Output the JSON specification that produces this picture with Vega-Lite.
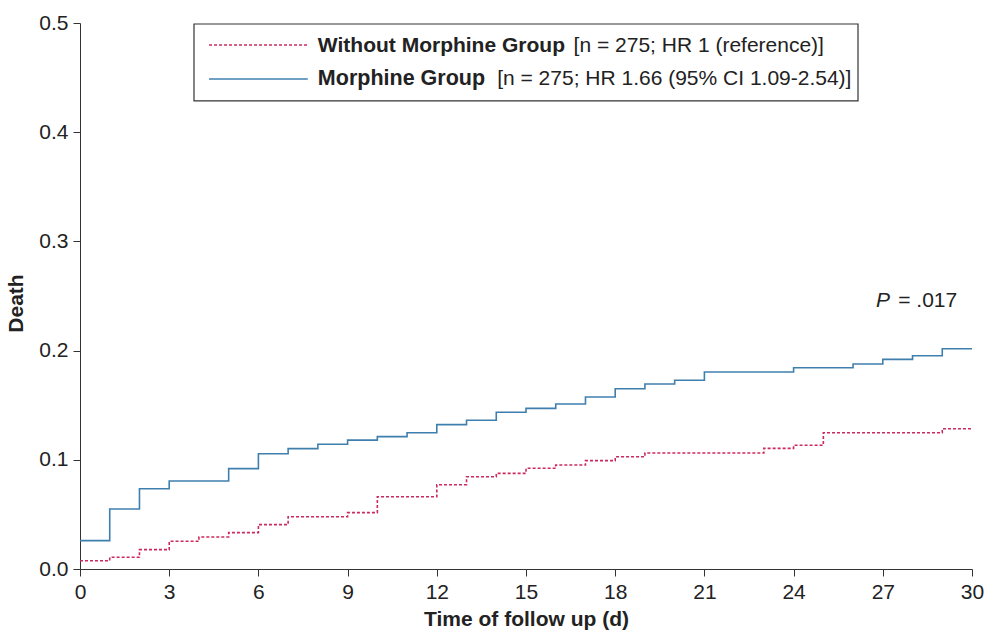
{
  "$schema": "https://vega.github.io/schema/vega-lite/v6.json",
  "autosize": {"type": "none"},
  "width": 892,
  "height": 546,
  "padding": {"left": 80, "top": 23, "right": 13, "bottom": 67},
  "background": "white",
  "config": {
    "font": "Liberation Sans",
    "view": {"stroke": null},
    "axis": {
      "grid": false,
      "domainColor": "#333333",
      "tickColor": "#333333",
      "tickSize": 7,
      "labelFont": "Liberation Sans",
      "labelFontSize": 21,
      "labelColor": "#222222",
      "labelFlush": false,
      "titleFont": "Liberation Sans",
      "titleFontSize": 21,
      "titleFontWeight": "bold",
      "titleColor": "#222222"
    }
  },
  "datasets": {
    "curves": [
      {"group": "Morphine", "day": 0, "death": 0.026},
      {"group": "Morphine", "day": 1, "death": 0.055},
      {"group": "Morphine", "day": 2, "death": 0.0735},
      {"group": "Morphine", "day": 3, "death": 0.0806},
      {"group": "Morphine", "day": 5, "death": 0.0919},
      {"group": "Morphine", "day": 6, "death": 0.1056},
      {"group": "Morphine", "day": 7, "death": 0.1102},
      {"group": "Morphine", "day": 8, "death": 0.1142},
      {"group": "Morphine", "day": 9, "death": 0.118},
      {"group": "Morphine", "day": 10, "death": 0.1212},
      {"group": "Morphine", "day": 11, "death": 0.1248},
      {"group": "Morphine", "day": 12, "death": 0.1322},
      {"group": "Morphine", "day": 13, "death": 0.1362},
      {"group": "Morphine", "day": 14, "death": 0.1435},
      {"group": "Morphine", "day": 15, "death": 0.1471},
      {"group": "Morphine", "day": 16, "death": 0.1511},
      {"group": "Morphine", "day": 17, "death": 0.1575},
      {"group": "Morphine", "day": 18, "death": 0.1651},
      {"group": "Morphine", "day": 19, "death": 0.1694},
      {"group": "Morphine", "day": 20, "death": 0.1728},
      {"group": "Morphine", "day": 21, "death": 0.1804},
      {"group": "Morphine", "day": 24, "death": 0.1843},
      {"group": "Morphine", "day": 26, "death": 0.1877},
      {"group": "Morphine", "day": 27, "death": 0.192},
      {"group": "Morphine", "day": 28, "death": 0.1953},
      {"group": "Morphine", "day": 29, "death": 0.2017},
      {"group": "Morphine", "day": 30, "death": 0.2017},
      {"group": "Without Morphine", "day": 0, "death": 0.0076},
      {"group": "Without Morphine", "day": 1, "death": 0.0107},
      {"group": "Without Morphine", "day": 2, "death": 0.0177},
      {"group": "Without Morphine", "day": 3, "death": 0.0254},
      {"group": "Without Morphine", "day": 4, "death": 0.0293},
      {"group": "Without Morphine", "day": 5, "death": 0.0333},
      {"group": "Without Morphine", "day": 6, "death": 0.0406},
      {"group": "Without Morphine", "day": 7, "death": 0.0479},
      {"group": "Without Morphine", "day": 9, "death": 0.0516},
      {"group": "Without Morphine", "day": 10, "death": 0.0662},
      {"group": "Without Morphine", "day": 12, "death": 0.0772},
      {"group": "Without Morphine", "day": 13, "death": 0.0845},
      {"group": "Without Morphine", "day": 14, "death": 0.0876},
      {"group": "Without Morphine", "day": 15, "death": 0.0922},
      {"group": "Without Morphine", "day": 16, "death": 0.0952},
      {"group": "Without Morphine", "day": 17, "death": 0.0992},
      {"group": "Without Morphine", "day": 18, "death": 0.1028},
      {"group": "Without Morphine", "day": 19, "death": 0.1062},
      {"group": "Without Morphine", "day": 23, "death": 0.1105},
      {"group": "Without Morphine", "day": 24, "death": 0.1133},
      {"group": "Without Morphine", "day": 25, "death": 0.1248},
      {"group": "Without Morphine", "day": 29, "death": 0.1285},
      {"group": "Without Morphine", "day": 30, "death": 0.1285}
    ],
    "one": [{}]
  },
  "layer": [
    {
      "data": {"name": "curves"},
      "mark": {"type": "line", "interpolate": "step-after", "strokeWidth": 1.6},
      "encoding": {
        "x": {
          "field": "day", "type": "quantitative",
          "scale": {"domain": [0, 30], "nice": false, "zero": false},
          "axis": {"values": [0, 3, 6, 9, 12, 15, 18, 21, 24, 27, 30], "title": "Time of follow up (d)", "labelPadding": 5, "titlePadding": 6}
        },
        "y": {
          "field": "death", "type": "quantitative",
          "scale": {"domain": [0, 0.5], "nice": false},
          "axis": {"values": [0, 0.1, 0.2, 0.3, 0.4, 0.5], "format": ".1f", "title": "Death", "labelPadding": 5, "titlePadding": 12, "titleY": 280}
        },
        "color": {
          "field": "group", "type": "nominal",
          "scale": {"domain": ["Without Morphine", "Morphine"], "range": ["#cc2a5c", "#3f7fae"]},
          "legend": null
        },
        "strokeDash": {
          "field": "group", "type": "nominal",
          "scale": {"domain": ["Without Morphine", "Morphine"], "range": [[3, 2], [1, 0]]},
          "legend": null
        }
      }
    },
    {
      "data": {"name": "one"},
      "mark": {"type": "rect", "fill": "white", "stroke": "#333333", "strokeWidth": 1.2},
      "encoding": {
        "x": {"datum": 3.834},
        "x2": {"datum": 26.166},
        "y": {"datum": 0.4991},
        "y2": {"datum": 0.4286}
      }
    },
    {
      "data": {"name": "one"},
      "mark": {"type": "rule", "stroke": "#cc2a5c", "strokeWidth": 1.6, "strokeDash": [3, 2]},
      "encoding": {
        "x": {"datum": 4.34},
        "x2": {"datum": 7.66},
        "y": {"datum": 0.4798}
      }
    },
    {
      "data": {"name": "one"},
      "mark": {"type": "rule", "stroke": "#3f7fae", "strokeWidth": 1.6},
      "encoding": {
        "x": {"datum": 4.34},
        "x2": {"datum": 7.66},
        "y": {"datum": 0.4487}
      }
    },
    {
      "data": {"name": "one"},
      "mark": {"type": "text", "text": "Without Morphine Group", "fontWeight": "bold", "fontSize": 21, "align": "left", "baseline": "alphabetic", "color": "#222222"},
      "encoding": {"x": {"datum": 8.0}, "y": {"datum": 0.4739}}
    },
    {
      "data": {"name": "one"},
      "mark": {"type": "text", "text": "[n = 275; HR 1 (reference)]", "fontSize": 21, "align": "left", "baseline": "alphabetic", "color": "#222222"},
      "encoding": {"x": {"datum": 16.6}, "y": {"datum": 0.4739}}
    },
    {
      "data": {"name": "one"},
      "mark": {"type": "text", "text": "Morphine Group", "fontWeight": "bold", "fontSize": 21.5, "align": "left", "baseline": "alphabetic", "color": "#222222"},
      "encoding": {"x": {"datum": 8.0}, "y": {"datum": 0.4432}}
    },
    {
      "data": {"name": "one"},
      "mark": {"type": "text", "text": "[n = 275; HR 1.66 (95% CI 1.09-2.54)]", "fontSize": 21, "align": "left", "baseline": "alphabetic", "color": "#222222"},
      "encoding": {"x": {"datum": 14.03}, "y": {"datum": 0.4432}}
    },
    {
      "data": {"name": "one"},
      "mark": {"type": "text", "text": "P", "fontStyle": "italic", "fontSize": 21, "align": "left", "baseline": "alphabetic", "color": "#222222"},
      "encoding": {"x": {"datum": 26.77}, "y": {"datum": 0.24}}
    },
    {
      "data": {"name": "one"},
      "mark": {"type": "text", "text": "= .017", "fontSize": 21, "align": "left", "baseline": "alphabetic", "color": "#222222"},
      "encoding": {"x": {"datum": 27.52}, "y": {"datum": 0.24}}
    }
  ]
}
